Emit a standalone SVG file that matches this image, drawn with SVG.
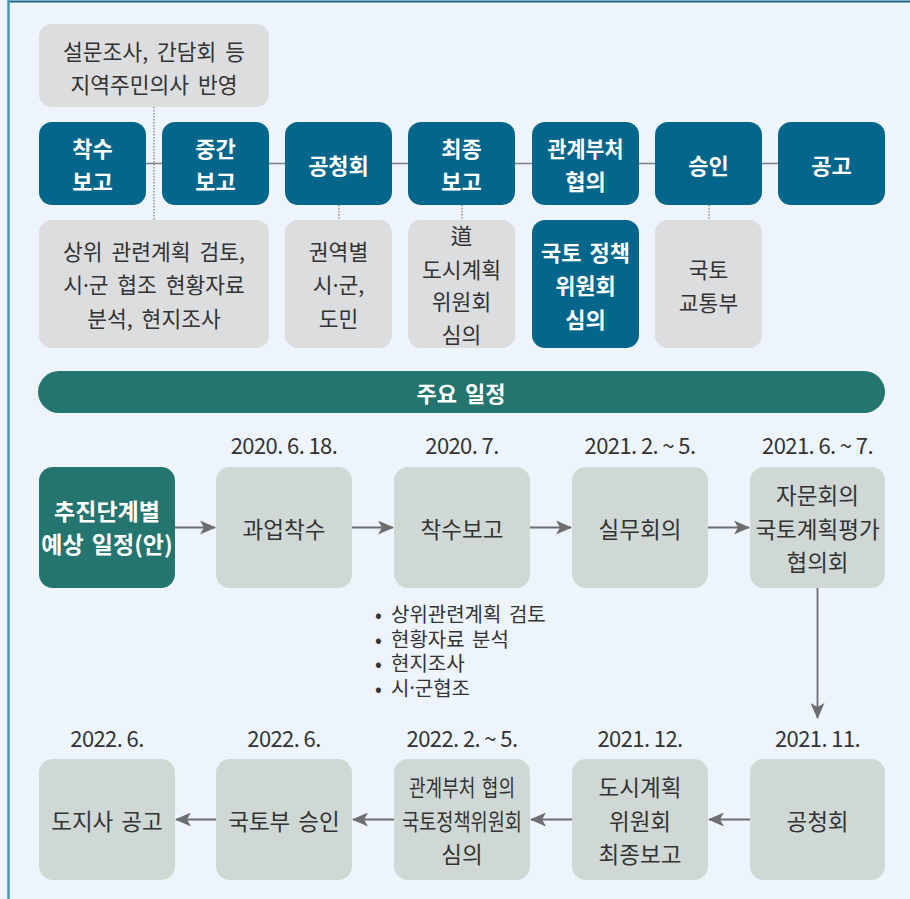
<svg xmlns="http://www.w3.org/2000/svg" width="910" height="899" viewBox="0 0 910 899">
<defs>
<style>
text{font-family:"Noto Sans CJK KR","Noto Sans",sans-serif;dominant-baseline:central;text-anchor:middle;}
.dotc{font-family:"Noto Sans","DejaVu Sans",sans-serif;}
.bg{fill:#EDF4FB;}
.blue rect{fill:#04668B;}
.blue text{fill:#FFFFFF;font-size:22px;font-weight:700;}
.info rect{fill:#DCDDDF;}
.info text{fill:#333333;font-size:21.5px;word-spacing:4px;}
.blueinfo rect{fill:#04668B;}
.blueinfo text{fill:#FFFFFF;font-size:22px;font-weight:700;word-spacing:3px;}
.sched rect{fill:#D0D8D5;}
.sched text{fill:#333333;font-size:22.5px;word-spacing:3px;}
.head rect{fill:#24756F;}
.head text{fill:#FFFFFF;font-size:23px;font-weight:700;word-spacing:3px;}
.date{fill:#333333;font-size:22px;letter-spacing:-0.6px;}
.bullets text{fill:#333333;font-size:20px;text-anchor:start;word-spacing:3px;}
.line{stroke:#808080;stroke-width:1.6;fill:none;}
.dot{stroke:#7A7A7A;stroke-width:1.2;stroke-dasharray:1.5 1.5;fill:none;}
.arrow{stroke:#6E6E70;stroke-width:1.8;fill:none;marker-end:url(#ah);}
</style>
<marker id="ah" markerUnits="userSpaceOnUse" markerWidth="16" markerHeight="14" viewBox="0 0 16 14" refX="15" refY="7" orient="auto">
<path d="M0,0 L16,7 L0,14 L4,7 Z" fill="#6E6E70"/>
</marker>
</defs>
<rect class="bg" x="0" y="0" width="910" height="899"/>
<line x1="8" y1="1.5" x2="910" y2="1.5" stroke="#1F6587" stroke-width="2"/>
<line x1="8.5" y1="0" x2="8.5" y2="899" stroke="#4598B6" stroke-width="2.5"/>

<g id="connectors">
<line class="line" x1="146" y1="163.5" x2="778" y2="163.5"/>
<line class="dot" x1="154" y1="107" x2="154" y2="220"/>
<line class="dot" x1="339" y1="205" x2="339" y2="220"/>
<line class="dot" x1="462" y1="205" x2="462" y2="220"/>
<line class="dot" x1="709" y1="205" x2="709" y2="220"/>
<line class="arrow" x1="175" y1="527.5" x2="215" y2="527.5"/>
<line class="arrow" x1="352" y1="527.5" x2="393" y2="527.5"/>
<line class="arrow" x1="530" y1="527.5" x2="571" y2="527.5"/>
<line class="arrow" x1="708" y1="527.5" x2="749" y2="527.5"/>
<line class="arrow" x1="817.5" y1="588" x2="817.5" y2="718"/>
<line class="arrow" x1="750" y1="819.5" x2="709" y2="819.5"/>
<line class="arrow" x1="572" y1="819.5" x2="531" y2="819.5"/>
<line class="arrow" x1="394" y1="819.5" x2="353" y2="819.5"/>
<line class="arrow" x1="216" y1="819.5" x2="176" y2="819.5"/>
</g>

<g id="survey" class="info">
<rect x="39" y="24" width="230" height="83" rx="13"/>
<text x="154" y="50">설문조사, 간담회 등</text>
<text x="154" y="83">지역주민의사 반영</text>
</g>

<g id="step1" class="blue"><rect x="39" y="122" width="107" height="83" rx="13"/><text x="92.5" y="147">착수</text><text x="92.5" y="180">보고</text></g>
<g id="step2" class="blue"><rect x="162" y="122" width="107" height="83" rx="13"/><text x="215.5" y="147">중간</text><text x="215.5" y="180">보고</text></g>
<g id="step3" class="blue"><rect x="285" y="122" width="107" height="83" rx="13"/><text x="338.5" y="163.5">공청회</text></g>
<g id="step4" class="blue"><rect x="408" y="122" width="107" height="83" rx="13"/><text x="461.5" y="147">최종</text><text x="461.5" y="180">보고</text></g>
<g id="step5" class="blue"><rect x="532" y="122" width="107" height="83" rx="13"/><text x="585.5" y="147" textLength="76" lengthAdjust="spacingAndGlyphs">관계부처</text><text x="585.5" y="180">협의</text></g>
<g id="step6" class="blue"><rect x="655" y="122" width="107" height="83" rx="13"/><text x="708.5" y="163.5">승인</text></g>
<g id="step7" class="blue"><rect x="778" y="122" width="107" height="83" rx="13"/><text x="831.5" y="163.5">공고</text></g>

<g id="note1" class="info">
<rect x="39" y="220" width="230" height="128" rx="13"/>
<text x="154" y="250">상위 관련계획 검토,</text>
<text x="154" y="283.5">시<tspan class="dotc">·</tspan>군 협조 현황자료</text>
<text x="154" y="317">분석, 현지조사</text>
</g>
<g id="note2" class="info">
<rect x="285" y="220" width="107" height="128" rx="13"/>
<text x="338.5" y="250">권역별</text>
<text x="338.5" y="283.5">시<tspan class="dotc">·</tspan>군,</text>
<text x="338.5" y="317">도민</text>
</g>
<g id="note3" class="info">
<rect x="408" y="220" width="107" height="128" rx="13"/>
<text x="461.5" y="234">道</text>
<text x="461.5" y="268">도시계획</text>
<text x="461.5" y="300">위원회</text>
<text x="461.5" y="333">심의</text>
</g>
<g id="note4" class="blueinfo">
<rect x="532" y="220" width="107" height="128" rx="13"/>
<text x="585.5" y="251">국토 정책</text>
<text x="585.5" y="284">위원회</text>
<text x="585.5" y="318">심의</text>
</g>
<g id="note5" class="info">
<rect x="655" y="220" width="107" height="128" rx="13"/>
<text x="708.5" y="268">국토</text>
<text x="708.5" y="301">교통부</text>
</g>

<g id="banner" class="head">
<rect x="38" y="371" width="847" height="42" rx="21"/>
<text x="461" y="392" style="font-size:22px">주요 일정</text>
</g>

<g id="s0" class="head"><rect x="39" y="467" width="136" height="121" rx="14"/><text x="107" y="510">추진단계별</text><text x="107" y="543">예상 일정(안)</text></g>
<g id="s1" class="sched"><rect x="216" y="467" width="136" height="121" rx="14"/><text x="284" y="527.5">과업착수</text></g>
<g id="s2" class="sched"><rect x="394" y="467" width="136" height="121" rx="14"/><text x="462" y="527.5">착수보고</text></g>
<g id="s3" class="sched"><rect x="572" y="467" width="136" height="121" rx="14"/><text x="640" y="527.5">실무회의</text></g>
<g id="s4" class="sched"><rect x="750" y="467" width="135" height="121" rx="14"/><text x="817.5" y="494">자문회의</text><text x="817.5" y="527.5">국토계획평가</text><text x="817.5" y="561">협의회</text></g>

<g id="s5" class="sched"><rect x="750" y="759" width="135" height="121" rx="14"/><text x="817.5" y="819.5">공청회</text></g>
<g id="s6" class="sched"><rect x="572" y="759" width="136" height="121" rx="14"/><text x="640" y="786">도시계획</text><text x="640" y="819.5">위원회</text><text x="640" y="853">최종보고</text></g>
<g id="s7" class="sched"><rect x="394" y="759" width="136" height="121" rx="14"/><text x="462" y="786" textLength="106" lengthAdjust="spacingAndGlyphs">관계부처 협의</text><text x="462" y="819.5" textLength="120" lengthAdjust="spacingAndGlyphs">국토정책위원회</text><text x="462" y="853">심의</text></g>
<g id="s8" class="sched"><rect x="216" y="759" width="136" height="121" rx="14"/><text x="284" y="819.5">국토부 승인</text></g>
<g id="s9" class="sched"><rect x="39" y="759" width="136" height="121" rx="14"/><text x="107" y="819.5">도지사 공고</text></g>

<g id="dates">
<text class="date" x="284" y="444">2020. 6. 18.</text>
<text class="date" x="462" y="444">2020. 7.</text>
<text class="date" x="640" y="444">2021. 2. ~ 5.</text>
<text class="date" x="817.5" y="444">2021. 6. ~ 7.</text>
<text class="date" x="817.5" y="737">2021. 11.</text>
<text class="date" x="640" y="737">2021. 12.</text>
<text class="date" x="462" y="737">2022. 2. ~ 5.</text>
<text class="date" x="284" y="737">2022. 6.</text>
<text class="date" x="107" y="737">2022. 6.</text>
</g>

<g id="bullets" class="bullets">
<text><tspan x="375" y="613">•</tspan><tspan x="391" y="613">상위관련계획 검토</tspan><tspan x="375" y="638">•</tspan><tspan x="391" y="638">현황자료 분석</tspan><tspan x="375" y="662">•</tspan><tspan x="391" y="662">현지조사</tspan><tspan x="375" y="687">•</tspan><tspan x="391" y="687">시<tspan class="dotc">·</tspan>군협조</tspan></text>
</g>
</svg>
